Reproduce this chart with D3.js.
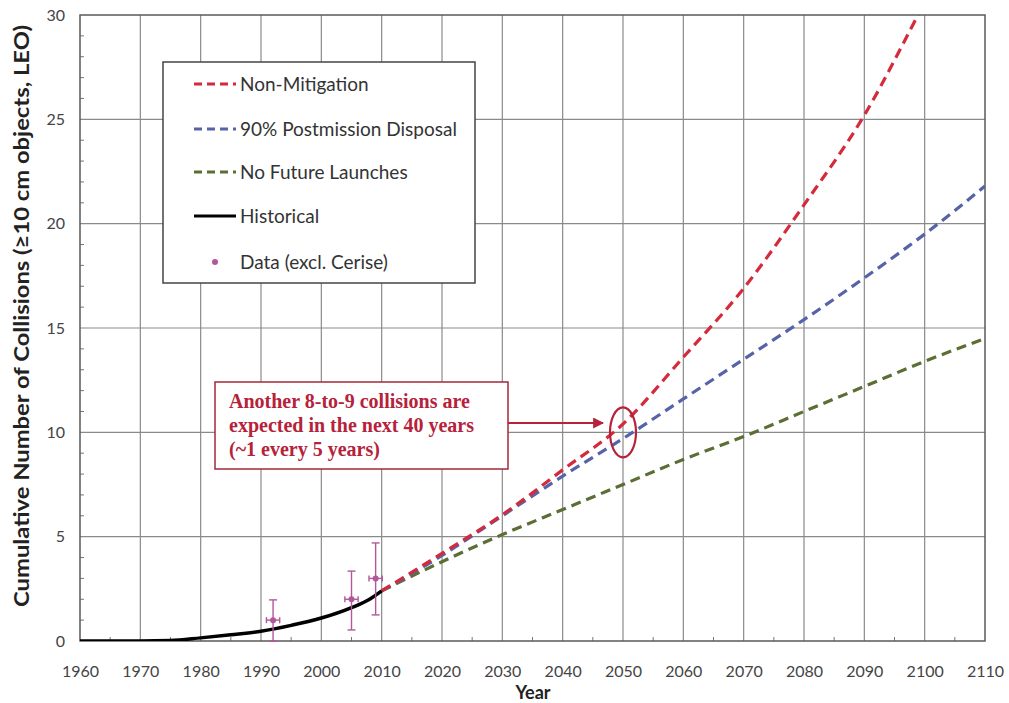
<!DOCTYPE html>
<html>
<head>
<meta charset="utf-8">
<script src="https://cdn.jsdelivr.net/npm/d3@7"></script>
<style>
  body { margin: 0; background: #fff; }
  svg { display: block; }
</style>
</head>
<body>
<svg id="chart" width="1009" height="703"></svg>
<script>
// Cumulative LEO collisions: history, observed events and three projections
const historicalYears  = [1960, 1970, 1975, 1980, 1985, 1990, 1995, 2000, 2005, 2008, 2010];
const historicalValues = [0, 0, 0.02, 0.15, 0.3, 0.47, 0.75, 1.1, 1.6, 2.0, 2.4];

const projectionYears  = [2010, 2020, 2030, 2040, 2050, 2060, 2070, 2080, 2090, 2100, 2110];
const nonMitigation    = [2.4, 4.2, 6.05, 8.2, 10.4, 13.6, 16.9, 20.9, 25.2, 30.6, 36];
const postmission90    = [2.4, 4.1, 6.0, 7.9, 9.7, 11.6, 13.5, 15.4, 17.4, 19.5, 21.8];
const noFutureLaunches = [2.4, 3.8, 5.1, 6.3, 7.5, 8.7, 9.8, 11.0, 12.2, 13.4, 14.5];

// Observed collisions (excluding Cerise) with error bars
const dataYears  = [1992, 2005, 2009];
const dataValues = [1, 2, 3];
const dataLow    = [0, 0.53, 1.25];
const dataHigh   = [1.97, 3.35, 4.7];
const dataYearErr = 1.1;

const xTicks = d3.range(1960, 2111, 10);
const yTicks = [0, 5, 10, 15, 20, 25, 30];

const legendLabels = ["Non-Mitigation", "90% Postmission Disposal", "No Future Launches", "Historical", "Data (excl. Cerise)"];
const noteLines = ["Another 8-to-9 collisions are", "expected in the next 40 years", "(~1 every 5 years)"];

const colors = { red: "#d42a3c", blue: "#5663a9", green: "#5b6e34", black: "#000", data: "#b0589a", note: "#b5223a" };
const sans = "Lato, 'Open Sans', sans-serif";

const svg = d3.select("#chart");
const m = { left: 80, right: 985, top: 15, bottom: 641 };

const x = d3.scaleLinear().domain([1960, 2110]).range([m.left, m.right]);
const y = d3.scaleLinear().domain([0, 30]).range([m.bottom, m.top]);

const defs = svg.append("defs");
defs.append("clipPath").attr("id", "plot-clip")
  .append("rect").attr("x", m.left).attr("y", m.top)
  .attr("width", m.right - m.left).attr("height", m.bottom - m.top);
defs.append("marker").attr("id", "arrowhead")
  .attr("viewBox", "0 0 10 10").attr("refX", 9).attr("refY", 5)
  .attr("markerWidth", 5).attr("markerHeight", 5).attr("orient", "auto")
  .append("path").attr("d", "M0,0 L10,5 L0,10 z").attr("fill", colors.note);

// Grid
const grid = svg.append("g");
grid.selectAll(".vx").data(xTicks.slice(1, -1)).enter().append("line")
  .attr("x1", d => x(d)).attr("x2", d => x(d))
  .attr("y1", m.top).attr("y2", m.bottom)
  .attr("stroke", "#8a8a8a").attr("stroke-width", 1.2);
grid.selectAll(".hy").data(yTicks.slice(1, -1)).enter().append("line")
  .attr("x1", m.left).attr("x2", m.right)
  .attr("y1", d => y(d)).attr("y2", d => y(d))
  .attr("stroke", "#8a8a8a").attr("stroke-width", 1.2);

// Minor ticks (inward)
svg.append("g").selectAll("line").data(d3.range(1965, 2110, 10)).enter().append("line")
  .attr("x1", d => x(d)).attr("x2", d => x(d))
  .attr("y1", m.bottom).attr("y2", m.bottom - 4)
  .attr("stroke", "#777").attr("stroke-width", 1);
svg.append("g").selectAll("line").data(d3.range(1, 30).filter(v => v % 5 !== 0)).enter().append("line")
  .attr("x1", m.left).attr("x2", m.left + 4)
  .attr("y1", d => y(d)).attr("y2", d => y(d))
  .attr("stroke", "#777").attr("stroke-width", 1);

// Frame
svg.append("rect").attr("x", m.left).attr("y", m.top)
  .attr("width", m.right - m.left).attr("height", m.bottom - m.top)
  .attr("fill", "none").attr("stroke", "#5a5a5a").attr("stroke-width", 1.5);

// Axes
const xAxis = svg.append("g").attr("transform", `translate(0,${m.bottom})`)
  .call(d3.axisBottom(x).tickValues(xTicks).tickFormat(d3.format("d")).tickSize(0).tickPadding(25));
const yAxis = svg.append("g").attr("transform", `translate(${m.left},0)`)
  .call(d3.axisLeft(y).tickValues(yTicks).tickSize(0).tickPadding(15));
[xAxis, yAxis].forEach(a => {
  a.select(".domain").remove();
  a.selectAll("text").attr("fill", "#444").style("font-family", sans).style("font-size", "16px");
});

svg.append("text").attr("x", 533).attr("y", 699).attr("text-anchor", "middle")
  .style("font-family", sans).style("font-weight", "bold").style("font-size", "18px")
  .attr("fill", "#222").text("Year");
svg.append("text").attr("transform", "translate(29,316) rotate(-90)").attr("text-anchor", "middle")
  .style("font-family", sans).style("font-weight", "bold").style("font-size", "20px")
  .attr("textLength", 582).attr("lengthAdjust", "spacingAndGlyphs")
  .attr("fill", "#222").text("Cumulative Number of Collisions (\u226510 cm objects, LEO)");

// Lines
const plot = svg.append("g").attr("clip-path", "url(#plot-clip)");
const line = d3.line().x(d => x(d[0])).y(d => y(d[1])).curve(d3.curveMonotoneX);
const series = [
  { vals: noFutureLaunches, color: colors.green },
  { vals: postmission90, color: colors.blue },
  { vals: nonMitigation, color: colors.red }
];
series.forEach(s => {
  plot.append("path").datum(d3.zip(projectionYears, s.vals)).attr("d", line)
    .attr("fill", "none").attr("stroke", s.color).attr("stroke-width", 3.2)
    .attr("stroke-dasharray", "10,6");
});
plot.append("path").datum(d3.zip(historicalYears, historicalValues)).attr("d", line)
  .attr("fill", "none").attr("stroke", colors.black).attr("stroke-width", 3.5);

// Data points with error bars
const dataG = svg.append("g").attr("stroke", colors.data).attr("stroke-width", 1.4);
dataYears.forEach((yr, i) => {
  const cx = x(yr), cy = y(dataValues[i]);
  dataG.append("line").attr("x1", cx).attr("x2", cx).attr("y1", y(dataLow[i])).attr("y2", y(dataHigh[i]));
  dataG.append("line").attr("x1", cx - 4).attr("x2", cx + 4).attr("y1", y(dataLow[i])).attr("y2", y(dataLow[i]));
  dataG.append("line").attr("x1", cx - 4).attr("x2", cx + 4).attr("y1", y(dataHigh[i])).attr("y2", y(dataHigh[i]));
  dataG.append("line").attr("x1", x(yr - dataYearErr)).attr("x2", x(yr + dataYearErr)).attr("y1", cy).attr("y2", cy);
  dataG.append("line").attr("x1", x(yr - dataYearErr)).attr("x2", x(yr - dataYearErr)).attr("y1", cy - 3).attr("y2", cy + 3);
  dataG.append("line").attr("x1", x(yr + dataYearErr)).attr("x2", x(yr + dataYearErr)).attr("y1", cy - 3).attr("y2", cy + 3);
  svg.append("circle").attr("cx", cx).attr("cy", cy).attr("r", 3).attr("fill", colors.data);
});

// Legend
const legend = svg.append("g");
legend.append("rect").attr("x", 163).attr("y", 62).attr("width", 312).attr("height", 221)
  .attr("fill", "#fff").attr("stroke", "#444").attr("stroke-width", 1.5);
const legendStyles = [
  { color: colors.red, dash: "8,5" }, { color: colors.blue, dash: "8,5" },
  { color: colors.green, dash: "8,5" }, { color: colors.black, dash: null }, { color: colors.data, dot: true }
];
const legendRows = [84, 129, 172, 216, 262];
legendLabels.forEach((lab, i) => {
  const ly = legendRows[i], st = legendStyles[i];
  if (st.dot) {
    legend.append("circle").attr("cx", 215).attr("cy", ly).attr("r", 3).attr("fill", st.color);
  } else {
    legend.append("line").attr("x1", 194).attr("x2", 236).attr("y1", ly).attr("y2", ly)
      .attr("stroke", st.color).attr("stroke-width", 3).attr("stroke-dasharray", st.dash);
  }
  legend.append("text").attr("x", 240).attr("y", ly).attr("dy", "0.35em")
    .style("font-family", sans).style("font-size", "19px")
    .attr("fill", "#333").text(lab);
});

// Annotation
const note = svg.append("g");
note.append("rect").attr("x", 215).attr("y", 382).attr("width", 293).attr("height", 87)
  .attr("fill", "#fff").attr("stroke", "#a3283a").attr("stroke-width", 1.5);
noteLines.forEach((t, i) => {
  note.append("text").attr("x", 229).attr("y", 408 + i * 24)
    .style("font-family", "'Liberation Serif', 'Times New Roman', serif").style("font-weight", "bold")
    .style("font-size", "20px").attr("fill", colors.note).text(t);
});
note.append("line").attr("x1", 508).attr("x2", 603).attr("y1", 423).attr("y2", 423)
  .attr("stroke", colors.note).attr("stroke-width", 2.2).attr("marker-end", "url(#arrowhead)");
note.append("ellipse").attr("cx", x(2050)).attr("cy", y(10)).attr("rx", 13).attr("ry", 25)
  .attr("fill", "none").attr("stroke", colors.note).attr("stroke-width", 2.2);
</script>
</body>
</html>
